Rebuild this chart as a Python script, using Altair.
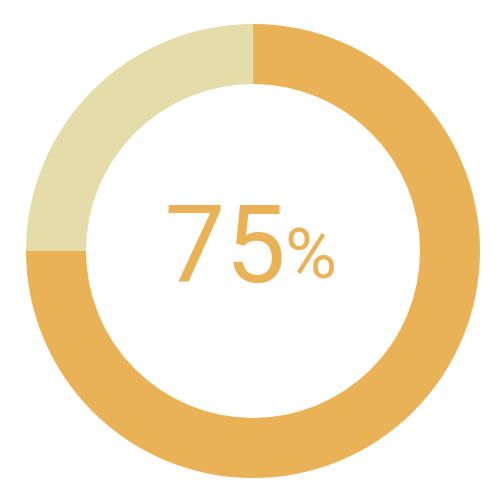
import altair as alt
import pandas as pd

categories = ["filled", "rest"]
values = [75, 25]
colors = ["#EAB257", "#E4DDA9"]
label_main = ["75"]
label_unit = ["%"]

df = pd.DataFrame({"cat": categories, "value": values, "order": [0, 1]})

cx, cy = 253, 251

arc = alt.Chart(df).mark_arc(outerRadius=227, innerRadius=167).encode(
    theta=alt.Theta("value:Q", stack=True),
    color=alt.Color("cat:N", scale=alt.Scale(domain=categories, range=colors), legend=None),
    order=alt.Order("order:Q"),
    x=alt.value(cx),
    y=alt.value(cy),
)

t1 = alt.Chart(pd.DataFrame({"t": label_main})).mark_text(
    font="Roboto", fontSize=108, color=colors[0], align="right", baseline="alphabetic"
).encode(text="t:N", x=alt.value(286), y=alt.value(282))

t2 = alt.Chart(pd.DataFrame({"t": label_unit})).mark_text(
    font="Roboto", fontSize=71, color=colors[0], align="left", baseline="alphabetic"
).encode(text="t:N", x=alt.value(285), y=alt.value(278))

chart = alt.layer(arc, t1, t2).properties(
    width=500, height=500, padding=0, autosize=alt.AutoSizeParams(type="none")
).configure_view(stroke=None)

chart.save("out.html", embed_options={"renderer": "svg", "actions": False})
